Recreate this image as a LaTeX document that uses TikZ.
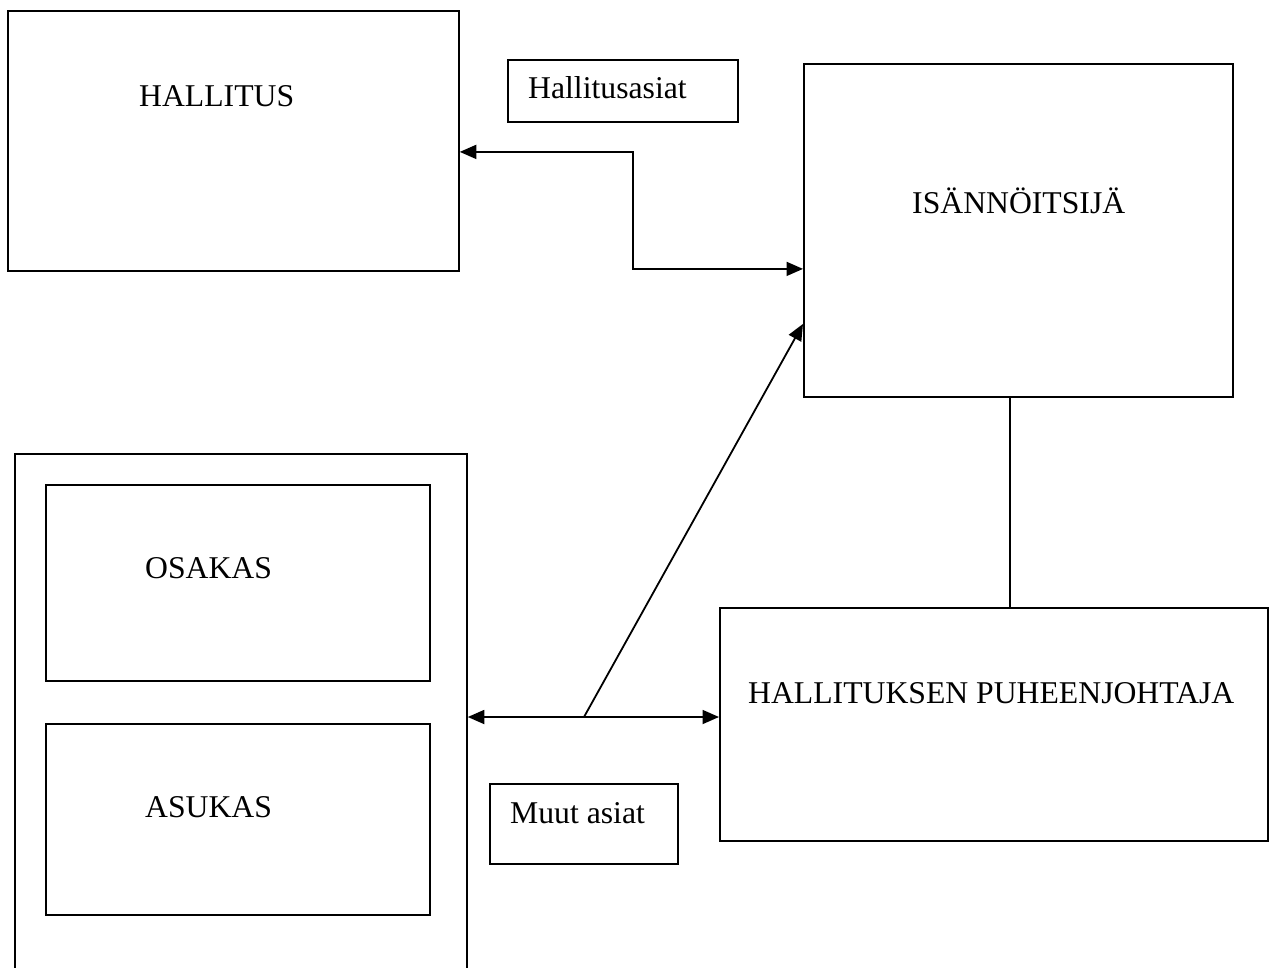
\documentclass[tikz,border=0pt]{standalone}
\usepackage{fontspec}
\setmainfont{Liberation Serif}
\usetikzlibrary{arrows.meta}

\begin{document}
\begin{tikzpicture}[x=1pt,y=-1pt,
  box/.style={draw=black, line width=1.8pt, rectangle, inner sep=0pt, anchor=north west},
  lbl/.style={inner sep=0pt, anchor=base west, font=\fontsize{31.7}{36}\selectfont},
  link/.style={line width=1.8pt},
  both/.style={link, {Triangle[length=16.5pt,width=14pt]}-{Triangle[length=16.5pt,width=14pt]}},
  tohead/.style={link, -{Triangle[length=16.5pt,width=14pt]}}]
  \useasboundingbox (0,0) rectangle (1269,967);
  \clip (0,0) rectangle (1269,967);

  % boxes
  \node[box, minimum width=451pt, minimum height=260pt] (hallitus) at (7,10) {};
  \node[box, minimum width=230pt, minimum height=62pt] (hasiat) at (507,59) {};
  \node[box, minimum width=429pt, minimum height=333pt] (isan) at (803,63) {};
  \node[box, minimum width=452pt, minimum height=530pt] (talo) at (14,453) {};
  \node[box, minimum width=384pt, minimum height=196pt] (osakas) at (45,484) {};
  \node[box, minimum width=384pt, minimum height=191pt] (asukas) at (45,723) {};
  \node[box, minimum width=188pt, minimum height=80pt] (muut) at (489,783) {};
  \node[box, minimum width=548pt, minimum height=233pt] (pj) at (719,607) {};

  % texts
  \node[lbl] (hallitus-t) at (139,106) {HALLITUS};
  \node[lbl] (hasiat-t) at (528,98) {Hallitusasiat};
  \node[lbl] (isan-t) at (912,213) {ISÄNNÖITSIJÄ};
  \node[lbl] (osakas-t) at (145,578) {OSAKAS};
  \node[lbl] (asukas-t) at (145,817) {ASUKAS};
  \node[lbl] (muut-t) at (510,823) {Muut asiat};
  \node[lbl] (pj-t) at (748,703) {HALLITUKSEN PUHEENJOHTAJA};

  % connectors
  \coordinate (fork) at (584,717);
  \draw[both] ([yshift=-11pt]hallitus.east) -- ++(173,0) |- ([yshift=-38.5pt]isan.west);
  \draw[both] (talo.east |- fork) -- (pj.west |- fork);
  \draw[tohead] (fork) -- ([yshift=-93.5pt]isan.west);
  \draw[link] ([xshift=-8.5pt]isan.south) -- ([xshift=-8.5pt]isan.south |- pj.north);
\end{tikzpicture}
\end{document}
